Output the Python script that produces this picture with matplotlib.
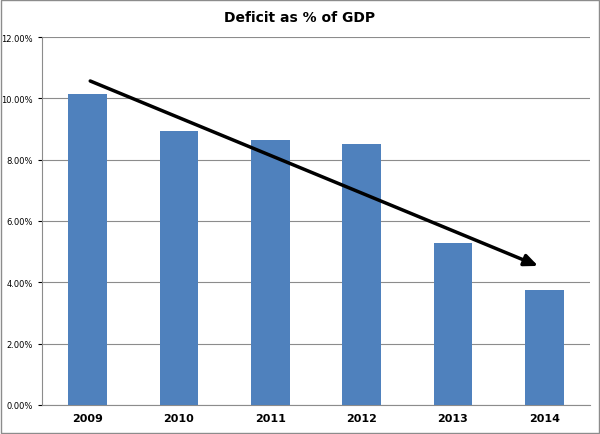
import matplotlib
matplotlib.use("Agg")
import matplotlib.pyplot as plt
from matplotlib.ticker import FuncFormatter

years = ["2009", "2010", "2011", "2012", "2013", "2014"]
deficit = [10.13, 8.95, 8.64, 8.50, 5.27, 3.76]
yticks = [0, 2, 4, 6, 8, 10, 12]

fig = plt.figure(figsize=(6, 4.35), dpi=100)
ax = fig.add_axes([42/600, 29/435, 548/600, 368/435])
x = range(len(years))
ax.bar(x, deficit, width=0.42, color="#4f81bd", zorder=3)
ax.set_xlim(-0.5, len(years) - 0.5)
ax.set_ylim(0, 12)
ax.set_yticks(yticks)
ax.yaxis.set_major_formatter(FuncFormatter(lambda v, p: f"{v:.2f}%"))
ax.set_xticks(list(x))
ax.set_xticklabels(years, fontweight="bold", fontsize=8)
ax.tick_params(axis="y", labelsize=6, length=3)
ax.tick_params(axis="x", length=0, pad=6)
ax.grid(axis="y", color="#8c8c8c", linewidth=0.8, zorder=0)
for s in ["top", "right"]:
    ax.spines[s].set_visible(False)
ax.spines["left"].set_color("#8c8c8c")
ax.spines["bottom"].set_color("#8c8c8c")
ax.annotate("", xy=(4.96, 4.5), xytext=(0.0, 10.6),
            arrowprops=dict(arrowstyle="-|>,head_length=0.8,head_width=0.35",
                            color="black", lw=2.5), zorder=5)
fig.text(0.5, 1 - 18/435, "Deficit as % of GDP", ha="center", va="center",
         fontweight="bold", fontsize=10)
fig.patches.append(plt.Rectangle((0.002, 0.002), 0.996, 0.996, transform=fig.transFigure,
                                 fill=False, edgecolor="#8c8c8c", lw=1))
fig.savefig("out.png", dpi=100)
